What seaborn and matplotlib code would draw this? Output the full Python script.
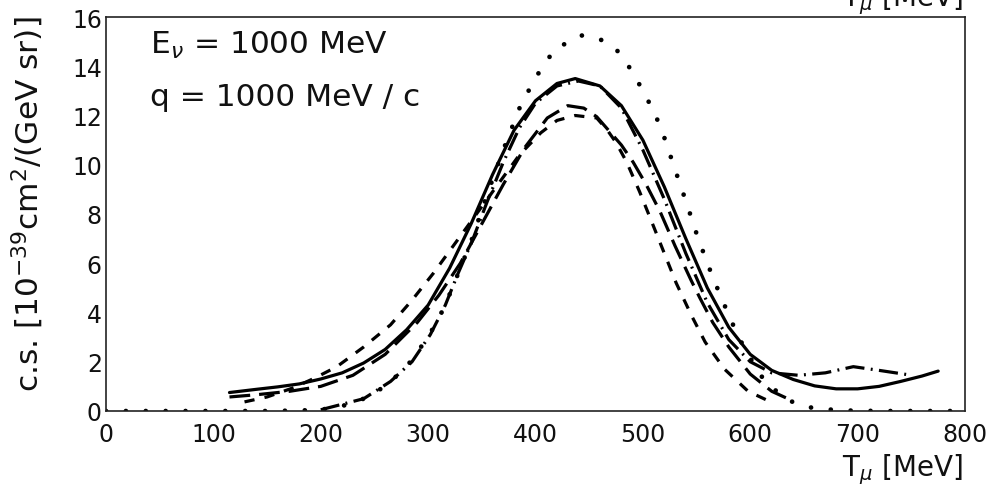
import numpy as np
import pandas as pd
import seaborn as sns
import matplotlib
matplotlib.use("Agg")
import matplotlib.pyplot as plt
from matplotlib.ticker import MultipleLocator

# ---- cross sections vs muon kinetic energy (10^-39 cm^2 / (GeV sr)) ----
solid_t = [115, 140, 160, 180, 200, 220, 240, 260, 280, 300, 320, 340, 360, 380, 400,
           420, 437, 460, 480, 500, 520, 540, 560, 580, 600, 620, 640, 660, 680, 700,
           720, 740, 760, 775]
solid_cs = [0.75, 0.88, 0.98, 1.1, 1.3, 1.55, 1.95, 2.5, 3.3, 4.3, 5.8, 7.6, 9.6, 11.4, 12.6,
            13.3, 13.5, 13.2, 12.4, 11.0, 9.1, 7.0, 5.0, 3.4, 2.3, 1.65, 1.28, 1.02, 0.9, 0.9,
            1.0, 1.2, 1.42, 1.62]

dotted_t = [0, 50, 100, 150, 180, 200, 220, 240, 260, 280, 300, 315, 330, 341, 355, 370,
            386, 401, 418, 443, 460, 475, 490, 500, 511, 520, 530, 541, 550, 560, 572,
            584, 595, 605, 615, 628, 640, 655, 670, 690, 720, 760, 800]
dotted_cs = [0, 0, 0, 0, 0.02, 0.05, 0.2, 0.5, 1.0, 1.8, 3.0, 4.2, 5.8, 7.0, 8.8, 10.6,
             12.4, 13.6, 14.7, 15.25, 15.1, 14.7, 13.8, 13.0, 12.1, 11.1, 9.8, 8.4, 7.2, 6.0, 4.7,
             3.5, 2.5, 1.8, 1.1, 0.7, 0.35, 0.15, 0.07, 0.02, 0, 0, 0]

dashdot_t = [200, 240, 265, 285, 302, 316, 328, 341, 355, 370, 385, 400, 420, 440, 460,
             480, 500, 520, 540, 560, 580, 600, 620, 645, 670, 696, 720, 749]
dashdot_cs = [0.05, 0.5, 1.2, 2.0, 3.1, 4.3, 5.6, 6.9, 8.5, 10.1, 11.5, 12.5, 13.2, 13.4, 13.2,
              12.3, 10.6, 8.6, 6.4, 4.4, 2.9, 2.0, 1.55, 1.45, 1.55, 1.8, 1.65, 1.46]

longdash_t = [115, 140, 171, 200, 230, 260, 290, 310, 330, 350, 370, 390, 411, 430, 445,
              457, 470, 480, 491, 503, 516, 530, 545, 553, 565, 580, 600, 620, 640]
longdash_cs = [0.57, 0.66, 0.8, 1.0, 1.45, 2.3, 3.6, 4.7, 6.0, 7.6, 9.2, 10.7, 11.9, 12.4, 12.3,
               11.95, 11.3, 10.8, 10.1, 9.2, 8.1, 6.7, 5.3, 4.6, 3.6, 2.6, 1.5, 0.8, 0.4]

shortdash_t = [129, 150, 175, 195, 215, 240, 265, 285, 305, 325, 345, 365, 385, 405, 420,
               437, 457, 467, 475, 485, 497, 509, 520, 531, 545, 558, 576, 598, 620]
shortdash_cs = [0.37, 0.57, 0.95, 1.35, 1.8, 2.6, 3.5, 4.5, 5.6, 6.8, 8.0, 9.2, 10.4, 11.3, 11.8,
                12.0, 11.9, 11.4, 10.9, 10.1, 8.9, 7.6, 6.4, 5.2, 3.9, 2.8, 1.7, 0.8, 0.35]

x_ticks = [0, 100, 200, 300, 400, 500, 600, 700, 800]
y_ticks = [0, 2, 4, 6, 8, 10, 12, 14, 16]

sns.set_theme(style="white")
plt.rcParams["font.family"] = ["DejaVu Sans"]
plt.rcParams["mathtext.fontset"] = "dejavusans"

fig = plt.figure(figsize=(9.92, 4.89), dpi=100)
ax = fig.add_axes([106 / 992, 1 - 412 / 489, (965 - 106) / 992, (412 - 18) / 489])

curves = [
    (solid_t, solid_cs, dict(linestyle="-", linewidth=2.3)),
    (dotted_t, dotted_cs, dict(linestyle=(0, (0.01, 4.2)), linewidth=3.4,
                               dash_capstyle="round")),
    (dashdot_t, dashdot_cs, dict(linestyle=(0, (6, 2.0, 0.6, 2.0)), linewidth=2.3)),
    (longdash_t, longdash_cs, dict(linestyle=(0, (6.5, 2.8)), linewidth=2.3)),
    (shortdash_t, shortdash_cs, dict(linestyle=(0, (3.2, 3.2)), linewidth=2.3)),
]
for t, cs, style in curves:
    df = pd.DataFrame({"T": t, "cs": cs})
    sns.lineplot(data=df, x="T", y="cs", ax=ax, color="black", sort=False,
                 estimator=None, **style)

ax.set_xlim(0, 800)
ax.set_ylim(0, 16)
ax.set_xticks(x_ticks)
ax.set_yticks(y_ticks)
ax.set_xticklabels([str(v) for v in x_ticks])
ax.set_yticklabels([str(v) for v in y_ticks])
ax.xaxis.set_minor_locator(MultipleLocator(20))
ax.yaxis.set_minor_locator(MultipleLocator(0.5))
ax.tick_params(axis="x", which="major", direction="in", length=9, width=1.0,
               labelsize=17, pad=8, color="#222222", labelcolor="#111111")
ax.tick_params(axis="x", which="minor", direction="in", length=5, width=1.0, color="#222222")
ax.tick_params(axis="y", which="major", direction="in", length=7, width=1.0,
               labelsize=17, pad=3, color="#222222", labelcolor="#111111")
ax.tick_params(axis="y", which="minor", direction="in", length=4, width=1.0, color="#222222")
ax.tick_params(top=False, right=False, which="both")
for side in ax.spines.values():
    side.set_visible(True)
    side.set_color("#222222")
    side.set_linewidth(1.2)
ax.set_xlabel("")
ax.set_ylabel("")

# axis titles placed at the axis ends
fig.text(963 / 992, 1 - 476 / 489, r"T$_{\mu}$ [MeV]", ha="right", va="baseline",
         fontsize=20, color="#111111")
fig.text(963 / 992, 1 - 6 / 489, r"T$_{\mu}$ [MeV]", ha="right", va="baseline",
         fontsize=20, color="#111111")
fig.text(28 / 992, 1 - 16 / 489, r"c.s. [10$^{-39}$cm$^{2}$/(GeV sr)]", rotation=90,
         ha="center", va="top", fontsize=22.5, color="#111111")

fig.text(150 / 992, 1 - 54 / 489, r"E$_{\nu}$ = 1000 MeV", ha="left", va="baseline",
         fontsize=22.5, color="#111111")
fig.text(150 / 992, 1 - 106 / 489, "q = 1000 MeV / c", ha="left", va="baseline",
         fontsize=22.5, color="#111111")

fig.savefig("out.png", dpi=100, facecolor="white")
